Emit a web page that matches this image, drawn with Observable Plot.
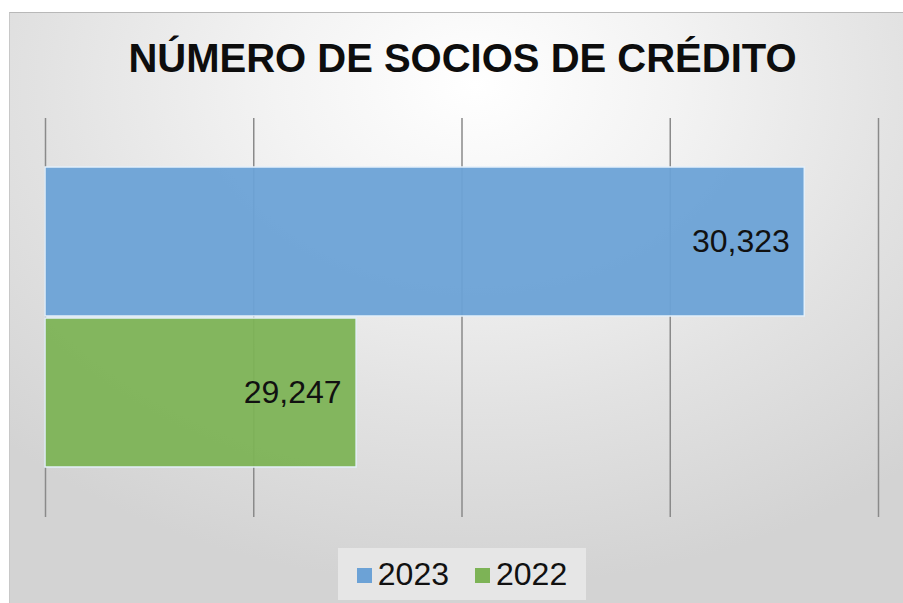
<!DOCTYPE html>
<html>
<head>
<meta charset="utf-8">
<script src="https://cdn.jsdelivr.net/npm/d3@7"></script>
<script src="https://cdn.jsdelivr.net/npm/@observablehq/plot@0.6"></script>
<style>
  html, body { margin: 0; padding: 0; background: #ffffff; }
  #wrap { position: relative; width: 903px; height: 603px; overflow: hidden; background: #fff; }
  #panel { position: absolute; left: 9px; top: 12px; width: 894px; height: 591px;
    background: radial-gradient(ellipse 75% 85% at 52% 12%, #ffffff 0%, #f3f3f3 30%, #e2e2e2 65%, #d3d3d3 100%);
    border-top: 1px solid #b8b8b8; border-left: 1px solid #c8c8c8; }
  #title { position: absolute; left: 0; top: 36px; width: 925px; text-align: center;
    font-family: "Liberation Sans", Arial, sans-serif; font-weight: bold; font-size: 40px; color: #0d0d0d; }
  #plot { position: absolute; left: 0; top: 118px; }
  #legend { position: absolute; left: 338px; top: 548px; width: 248px; height: 52px; background: #e6e6e6;
    font-family: "Liberation Sans", Arial, sans-serif; font-size: 32px; color: #111;
    display: flex; align-items: center; justify-content: center; gap: 26px; }
  .item { display: flex; align-items: center; gap: 6px; }
  .sw { width: 15px; height: 15px; display: inline-block; margin-top: 3px; }
</style>
</head>
<body>
<div id="wrap">
  <div id="panel"></div>
  <div id="title">NÚMERO DE SOCIOS DE CRÉDITO</div>
  <div id="plot"></div>
  <div id="legend"></div>
</div>
<script>
const years = ["2023", "2022"];
const values = [30323, 29247];
const labels = ["30,323", "29,247"];
const colors = ["#6ca2d6", "#7db356"];
const gridTicks = [28500, 29000, 29500, 30000, 30500];

const data = years.map((y, i) => ({year: y, value: values[i], label: labels[i], color: colors[i]}));

const chart = Plot.plot({
  width: 903,
  height: 399,
  marginTop: 0,
  marginBottom: 0,
  marginLeft: 45,
  marginRight: 25,
  style: {background: "transparent", overflow: "visible"},
  x: {domain: [28500, 30500], axis: null},
  y: {domain: years, axis: null, paddingInner: 0.013, paddingOuter: 0.32},
  marks: [
    Plot.ruleX(gridTicks, {stroke: "#8a8a8a", strokeWidth: 1.5}),
    Plot.barX(data, {x1: 28500, x2: "value", y: "year", fill: "color", fillOpacity: 0.95,
      stroke: "#e4f0fa", strokeWidth: 1.5}),
    Plot.text(data, {x: "value", y: "year", text: "label", textAnchor: "end", dx: -15,
      fontSize: 32, fill: "#111", fontFamily: "Liberation Sans, Arial, sans-serif"})
  ]
});
document.getElementById("plot").appendChild(chart);

const legend = document.getElementById("legend");
years.forEach((y, i) => {
  const it = document.createElement("div");
  it.className = "item";
  const sw = document.createElement("span");
  sw.className = "sw";
  sw.style.background = colors[i];
  const t = document.createElement("span");
  t.textContent = y;
  it.appendChild(sw); it.appendChild(t);
  legend.appendChild(it);
});
</script>
</body>
</html>
